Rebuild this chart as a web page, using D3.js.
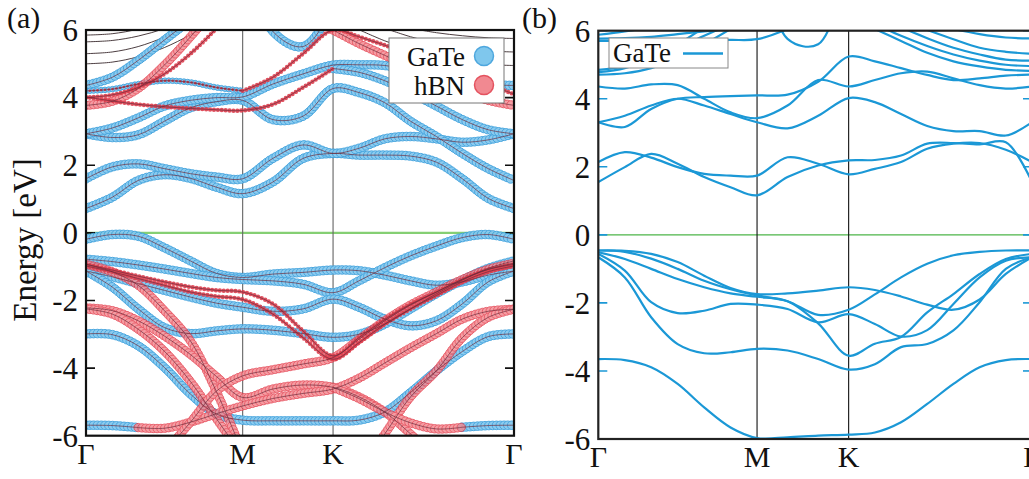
<!DOCTYPE html>
<html>
<head>
<meta charset="utf-8">
<script src="https://cdn.jsdelivr.net/npm/d3@7"></script>
<style>
  body { margin: 0; background: #fff; }
  text { font-family: "Liberation Serif", "DejaVu Serif", serif; fill: #111; }
</style>
</head>
<body>
<svg id="chart" width="1029" height="479"></svg>
<script>
// k-path sample points (Γ=0, M=1, K=1.577, Γ=2.732)
var kGrid = [0, 0.167, 0.333, 0.5, 0.667, 0.833, 1, 1.192, 1.385, 1.577, 1.742, 1.907, 2.072, 2.237, 2.402, 2.567, 2.732];
var kTickPos = [0, 1, 1.577, 2.732];
var kTickLabels = ["Γ", "M", "K", "Γ"];
var energyTicks = [-6, -4, -2, 0, 2, 4, 6];
var N = null;

// ---- panel (a): GaTe/hBN projected bands ----
var gateBandsA = [
  [0.72,1.05,1.55,1.72,1.61,1.35,1.16,1.5,2.2,2.35,2.3,2.3,2.27,2.09,1.6,1.02,0.72],
  [1.6,1.95,2.04,1.9,1.75,1.65,1.6,2.2,2.6,2.35,2.5,2.78,2.85,2.78,2.68,2.75,2.93],
  [2.93,2.82,2.9,3.3,3.7,3.88,3.92,3.35,3.45,4.27,4.15,3.85,3.3,2.85,2.35,1.9,1.55],
  [2.93,3.1,3.4,3.75,3.92,4.0,4.02,4.4,4.7,4.96,4.97,4.95,4.8,4.6,4.45,4.38,4.36],
  [N,N,N,N,N,N,N,N,N,4.86,4.75,4.5,4.15,3.75,3.35,3.05,2.93],
  [4.36,4.6,5.1,5.7,6.3,N,N,N,N,N,N,N,N,N,N,N,N],
  [N,N,N,N,N,N,8.0,5.96,5.51,6.73,9.1,N,N,N,N,N,N],
  [-0.19,-0.05,-0.1,-0.44,-0.83,-1.2,-1.32,-1.22,-1.17,-1.1,-1.12,-1.25,-1.42,-1.55,-1.45,-1.25,-1.13],
  [-0.78,-0.85,-0.95,-1.07,-1.2,-1.32,-1.38,-1.42,-1.52,-1.77,-1.42,-1.03,-0.68,-0.39,-0.14,-0.05,-0.19],
  [-1.13,-1.3,-1.5,-1.7,-1.9,-2.08,-2.2,-2.32,-2.25,-1.96,-2.2,-2.55,-2.75,-2.6,-2.1,-1.45,-1.13],
  [-1.13,-1.6,-2.25,-2.8,-2.98,-2.9,-2.84,-2.88,-2.98,-3.09,-3.0,-2.7,-2.25,-1.8,-1.4,-1.05,-0.83],
  [-2.99,-3.01,-3.34,-3.98,-4.77,-5.36,-5.54,-5.56,-5.56,-5.56,-5.54,-5.3,-4.72,-4.08,-3.51,-3.07,-2.99],
  [-5.69,-5.7,-5.76,N,N,N,N,N,N,N,N,N,N,N,N,N,N],
  [N,N,N,N,N,N,N,N,N,N,N,N,N,N,-5.75,-5.7,-5.69]
];
var hbnBandsA = [
  [3.77,3.89,4.27,4.96,5.8,6.7,N,N,N,N,N,N,N,N,N,N,N],
  [N,N,N,N,N,N,N,N,N,6.0,5.6,5.25,4.9,4.55,4.18,3.92,3.77],
  [-0.93,-1.15,-1.55,-2.3,-3.2,-4.7,-6.5,N,N,N,N,N,N,N,N,N,N],
  [-2.22,-2.3,-2.6,-3.05,-3.6,-4.25,-4.87,-4.62,-4.5,-4.57,-4.85,-5.3,-5.95,-6.7,N,N,N],
  [-2.25,-2.4,-2.85,-3.5,-4.4,-5.5,-6.6,N,N,N,N,N,N,N,N,N,N],
  [N,N,-5.76,-5.78,-5.6,-5.35,-5.12,-4.9,-4.75,-4.62,-4.3,-3.85,-3.4,-2.98,-2.55,-2.32,-2.26],
  [N,N,N,-6.5,-5.6,-4.68,-4.23,-4.05,-3.88,-3.69,-3.15,-2.6,-2.13,-1.75,-1.38,-1.08,-0.9],
  [N,N,N,N,N,N,N,N,N,N,-7.0,-5.95,-4.85,-4.08,-3.1,-2.5,-2.26],
  [N,N,N,N,N,N,N,N,N,-4.57,-4.9,-5.3,-5.62,-5.8,-5.75,N,N]
];
var hbnSmallA = [
  [N,N,N,N,N,N,4.2,4.6,5.3,6.0,5.8,5.55,5.3,5.0,4.7,4.4,4.1],
  [4.0,4.08,4.3,4.7,5.3,6.05,6.9,N,N,N,N,N,N,N,N,N,N],
  [4.02,3.9,3.8,3.73,3.68,3.64,3.62,3.8,4.3,4.86,N,N,N,N,N,N,N],
  [-0.93,-1.1,-1.28,-1.45,-1.6,-1.7,-1.75,-2.1,-2.9,-3.64,-3.1,-2.56,-2.11,-1.75,-1.37,-1.08,-0.93],
  [-0.98,-1.15,-1.35,-1.55,-1.75,-1.88,-1.97,-2.4,-3.1,-3.74,-3.25,-2.7,-2.25,-1.85,-1.45,-1.15,-0.98]
];
var gateSmallA = [
  [4.2,4.25,4.4,4.5,4.45,4.3,4.2,N,N,N,N,N,N,N,N,N,N]
];
var bareBandsA = [
  [5.85,5.89,6.03,6.3,N,N,N,N,N,N,N,N,N,N,N,N,N],
  [5.65,5.69,5.82,6.04,6.35,N,N,N,N,N,N,N,N,N,N,N,N],
  [5.3,5.35,5.51,5.79,6.16,N,N,N,N,N,N,N,N,N,N,N,N],
  [5.0,5.05,5.21,5.48,5.86,6.32,N,N,N,N,N,N,N,N,N,N,N],
  [N,N,N,N,N,N,N,N,N,N,N,N,6.05,5.92,5.83,5.77,5.75],
  [N,N,N,N,N,N,N,N,N,N,N,6.05,5.8,5.61,5.46,5.38,5.35],
  [N,N,N,N,N,N,N,N,N,N,6.01,5.68,5.42,5.22,5.07,4.98,4.95]
];

// ---- panel (b): GaTe bands ----
var gateBandsB = [
  [1.55,1.99,2.38,2.09,1.7,1.4,1.16,1.7,2.04,2.19,2.2,2.33,2.68,2.7,2.66,2.72,1.55],
  [2.14,2.43,2.27,1.99,1.79,1.74,1.74,2.28,2.09,1.78,1.94,2.14,2.53,2.68,2.7,2.5,2.14],
  [3.31,3.17,3.7,4.0,4.05,4.08,4.1,4.12,4.5,5.24,5.1,4.9,4.7,4.55,4.6,4.68,4.71],
  [3.31,3.5,3.8,4.0,3.8,3.55,3.31,3.13,3.5,4.02,3.9,3.55,3.2,3.05,3.05,2.92,3.31],
  [4.36,4.3,4.42,4.4,4.0,3.6,3.43,3.8,4.55,4.36,4.55,4.75,4.8,4.6,4.4,4.3,4.36],
  [5.88,5.98,6.1,N,N,N,N,N,N,N,N,N,N,N,N,N,N],
  [5.77,5.78,5.82,5.9,5.98,6.05,N,N,N,N,N,N,N,N,N,N,N],
  [5.7,5.7,5.7,5.7,5.72,5.73,5.75,6.05,N,N,N,N,N,N,N,N,N],
  [N,N,N,N,N,N,8.5,5.76,5.6,7.9,N,N,N,N,N,N,N],
  [4.85,4.95,5.2,5.5,5.85,6.2,N,N,N,N,N,N,N,N,N,N,N],
  [4.78,4.9,5.2,5.6,6.1,N,N,N,N,N,N,N,N,N,N,N,N],
  [4.71,4.75,4.9,5.2,5.6,6.05,N,N,N,N,N,N,N,N,N,N,N],
  [N,N,N,N,N,N,N,N,N,N,N,N,N,6.05,5.9,5.8,5.77],
  [N,N,N,N,N,N,N,N,N,N,N,N,6.02,5.75,5.5,5.38,5.32],
  [N,N,N,N,N,N,N,N,N,N,N,6.1,5.78,5.5,5.3,5.15,5.12],
  [N,N,N,N,N,N,N,N,N,N,6.2,5.85,5.55,5.3,5.12,5.0,4.96],
  [N,N,N,N,N,N,N,N,N,N,6.05,5.7,5.35,5.1,4.95,4.85,4.82],
  [-0.46,-0.47,-0.56,-0.8,-1.2,-1.56,-1.74,-1.72,-1.64,-1.54,-1.62,-1.81,-2.05,-2.2,-1.9,-1.15,-0.66],
  [-0.51,-0.71,-1.0,-1.3,-1.54,-1.72,-1.82,-1.95,-2.6,-3.55,-3.2,-3.0,-2.28,-1.74,-1.15,-0.71,-0.56],
  [-0.56,-1.05,-1.98,-2.3,-2.23,-2.03,-2.05,-2.18,-2.57,-2.33,-2.62,-2.99,-2.8,-2.03,-1.25,-0.76,-0.66],
  [-0.66,-1.25,-2.42,-3.21,-3.48,-3.45,-3.35,-3.4,-3.65,-3.96,-3.8,-3.3,-3.21,-2.81,-1.98,-1.0,-0.66],
  [-0.46,-0.5,-0.7,-1.0,-1.35,-1.6,-1.78,-1.95,-2.35,-2.2,-1.75,-1.25,-0.85,-0.6,-0.5,-0.46,-0.46],
  [-3.65,-3.68,-3.89,-4.38,-5.07,-5.66,-5.97,-5.95,-5.9,-5.87,-5.81,-5.51,-4.97,-4.38,-3.89,-3.68,-3.65]
];

var legendA = ["GaTe", "hBN"];
var legendB = ["GaTe"];

var svg = d3.select("#chart");

// panel boxes (pixel frames)
var panelA = { left: 86, right: 514, top: 30, bottom: 435.7 };
var panelB = { left: 598.3, right: 1032, top: 30.7, bottom: 439 };

function setupPanel(p, id, tickColor, vlineColor, zeroColor, zeroWidth) {
  var x = d3.scaleLinear().domain([0, 2.732]).range([p.left, p.right]);
  var y = d3.scaleLinear().domain([-6, 6]).range([p.bottom, p.top]);

  svg.append("clipPath").attr("id", id)
    .append("rect")
      .attr("x", p.left).attr("y", p.top)
      .attr("width", p.right - p.left).attr("height", p.bottom - p.top);

  var g = svg.append("g");

  // y tick labels
  g.selectAll(".ylab").data(energyTicks).enter()
    .append("text")
      .attr("x", p.left - 8)
      .attr("y", function(d){ return y(d); })
      .attr("dy", "0.35em")
      .attr("text-anchor", "end")
      .attr("font-size", "31px")
      .text(function(d){ return d; });

  // x labels
  g.selectAll(".xlab").data(kTickPos).enter()
    .append("text")
      .attr("x", function(d){ return x(d); })
      .attr("y", p.bottom + 28)
      .attr("text-anchor", "middle")
      .attr("font-size", "30px")
      .text(function(d, i){ return kTickLabels[i]; });

  var plot = g.append("g").attr("clip-path", "url(#" + id + ")");

  // fermi level
  plot.append("line")
    .attr("x1", p.left).attr("x2", p.right)
    .attr("y1", y(0)).attr("y2", y(0))
    .attr("stroke", zeroColor).attr("stroke-width", zeroWidth);

  // high symmetry lines
  plot.selectAll(".vline").data(kTickPos.slice(1, 3)).enter()
    .append("line")
      .attr("x1", function(d){ return x(d); }).attr("x2", function(d){ return x(d); })
      .attr("y1", p.top).attr("y2", p.bottom)
      .attr("stroke", vlineColor).attr("stroke-width", 1.1);

  // inner ticks left and right
  [p.left, p.right].forEach(function(x0, side){
    plot.selectAll(".tk" + side).data(energyTicks).enter()
      .append("line")
        .attr("x1", x0).attr("x2", side ? x0 - 9 : x0 + 9)
        .attr("y1", function(d){ return y(d); }).attr("y2", function(d){ return y(d); })
        .attr("stroke", tickColor).attr("stroke-width", 1.6);
  });

  var line = d3.line()
    .defined(function(d){ return d[1] != null; })
    .x(function(d){ return x(d[0]); })
    .y(function(d){ return y(d[1]); })
    .curve(d3.curveCatmullRom.alpha(0.5));

  return { g: g, plot: plot, x: x, y: y, line: line };
}

function pts(band) {
  return kGrid.map(function(k, i){ return [k, band[i]]; });
}

// fat-band markers: circles placed along each band curve
function dotted(plot, line, bands, r, fill, stroke, gap, opacity) {
  var grp = plot.append("g").attr("opacity", opacity);
  bands.forEach(function(b){
    var path = grp.append("path")
      .attr("d", line(pts(b)))
      .attr("fill", "none").attr("stroke", "none");
    var node = path.node();
    var L = node.getTotalLength();
    var samples = d3.range(0, L + 0.01, gap).map(function(s){ return node.getPointAtLength(s); });
    grp.append("g").selectAll("circle").data(samples).enter()
      .append("circle")
        .attr("cx", function(d){ return d.x; })
        .attr("cy", function(d){ return d.y; })
        .attr("r", r)
        .attr("fill", fill)
        .attr("stroke", stroke)
        .attr("stroke-width", stroke == "none" ? 0 : 0.9);
  });
}

function thin(plot, line, bands, width, color) {
  plot.append("g")
    .selectAll("path").data(bands).enter()
    .append("path")
      .attr("d", function(d){ return line(pts(d)); })
      .attr("fill", "none")
      .attr("stroke", color)
      .attr("stroke-width", width);
}

// ---------- panel (a) ----------
var A = setupPanel(panelA, "clipA", "#111", "#666", "#86cf74", 2.2);

thin(A.plot, A.line, bareBandsA, 0.9, "#3a2a2e");

dotted(A.plot, A.line, gateBandsA, 4.3, "#86c9ef", "#3a9edb", 3.8, 0.95);
dotted(A.plot, A.line, gateSmallA, 2.8, "#86c9ef", "#3a9edb", 3.8, 0.95);

dotted(A.plot, A.line, hbnBandsA, 4.2, "#f3888f", "#e23444", 3.8, 0.82);
dotted(A.plot, A.line, hbnSmallA, 2.2, "#dd3e4d", "none", 3.9, 0.9);
dotted(A.plot, A.line, gateSmallA, 1.3, "#cc3042", "none", 3.8, 0.9);

thin(A.plot, A.line, gateBandsA.concat(hbnBandsA, hbnSmallA, gateSmallA), 0.7, "#6e2c3c");

// frame
A.g.append("rect")
  .attr("x", panelA.left).attr("y", panelA.top)
  .attr("width", panelA.right - panelA.left).attr("height", panelA.bottom - panelA.top)
  .attr("fill", "none").attr("stroke", "#111").attr("stroke-width", 2.2);

// y title
A.g.append("text")
  .attr("transform", "translate(36,240) rotate(-90)")
  .attr("text-anchor", "middle")
  .attr("font-size", "33px")
  .text("Energy [eV]");

A.g.append("text").attr("x", 7).attr("y", 28).attr("font-size", "30px").text("(a)");

// legend (a)
var legA = A.g.append("g");
legA.append("rect")
  .attr("x", 389).attr("y", 38).attr("width", 115).attr("height", 65)
  .attr("fill", "#fff").attr("stroke", "#777").attr("stroke-width", 1);
var legColors = [["#3b9edb", "#72c1ec"], ["#e2404e", "#f07d86"]];
legA.selectAll(".lt").data(legendA).enter()
  .append("text")
    .attr("x", 465)
    .attr("y", function(d, i){ return 66 + i * 29; })
    .attr("text-anchor", "end")
    .attr("font-size", "27px")
    .text(function(d){ return d; });
legA.selectAll(".lc").data(legendA).enter()
  .append("circle")
    .attr("cx", 484)
    .attr("cy", function(d, i){ return 56 + i * 29; })
    .attr("r", 9.5)
    .attr("fill", function(d, i){ return legColors[i][1]; })
    .attr("stroke", function(d, i){ return legColors[i][0]; })
    .attr("stroke-width", 1.5)
    .attr("opacity", 0.9);

// ---------- panel (b) ----------
var B = setupPanel(panelB, "clipB", "#1b98d6", "#111", "#4cb548", 1.3);

thin(B.plot, B.line, gateBandsB, 2.2, "#1b98d6");

B.g.append("rect")
  .attr("x", panelB.left).attr("y", panelB.top)
  .attr("width", panelB.right - panelB.left).attr("height", panelB.bottom - panelB.top)
  .attr("fill", "none").attr("stroke", "#222").attr("stroke-width", 2.2);

B.g.append("text").attr("x", 522).attr("y", 28).attr("font-size", "30px").text("(b)");

var legB = B.g.append("g");
legB.append("rect")
  .attr("x", 609).attr("y", 38).attr("width", 119).attr("height", 30)
  .attr("fill", "#fff").attr("stroke", "#888").attr("stroke-width", 1);
legB.selectAll(".lt").data(legendB).enter()
  .append("text")
    .attr("x", 613).attr("y", 62)
    .attr("font-size", "27px")
    .text(function(d){ return d; });
legB.append("line")
  .attr("x1", 683).attr("x2", 723).attr("y1", 53.5).attr("y2", 53.5)
  .attr("stroke", "#1b98d6").attr("stroke-width", 2.4);
</script>
</body>
</html>
